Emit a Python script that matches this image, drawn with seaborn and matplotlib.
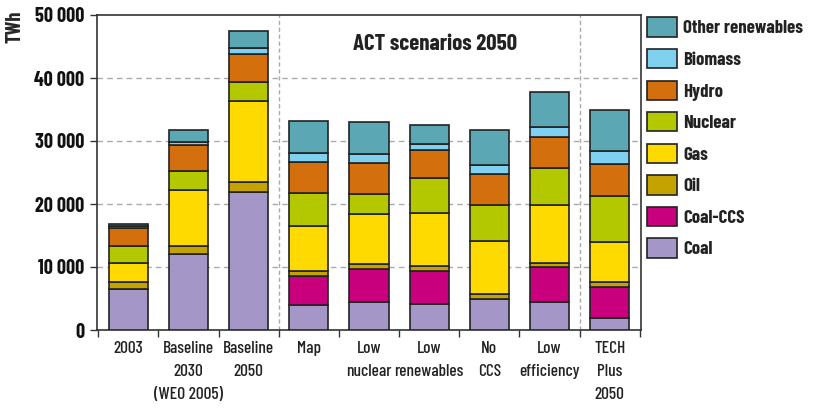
import matplotlib
matplotlib.use("Agg")
import matplotlib.pyplot as plt
from matplotlib import font_manager
from matplotlib.ticker import FuncFormatter, FixedLocator
import seaborn as sns

# Electricity generation by source (TWh)
categories = ['2003', 'Baseline\n2030\n(WEO 2005)', 'Baseline\n2050', 'Map', 'Low\nnuclear',
              'Low\nrenewables', 'No\nCCS', 'Low\nefficiency', 'TECH\nPlus\n2050']
coal = [6500, 12100, 21900, 4000, 4450, 4200, 5000, 4450, 1850]
coal_ccs = [0, 0, 0, 4500, 5200, 5150, 0, 5500, 5050]
oil = [1050, 1170, 1550, 800, 800, 750, 700, 750, 750]
gas = [3100, 8900, 12850, 7150, 7950, 8400, 8400, 9200, 6300]
nuclear = [2750, 3000, 3100, 5300, 3150, 5600, 5700, 5850, 7250]
hydro = [2750, 4250, 4400, 4900, 4900, 4500, 4900, 4850, 5100]
biomass = [300, 500, 950, 1450, 1450, 900, 1450, 1550, 2050]
other = [300, 1900, 2700, 5050, 5150, 3000, 5550, 5700, 6600]

series = [
    ('Coal', coal, '#a596c8'),
    ('Coal-CCS', coal_ccs, '#c8007e'),
    ('Oil', oil, '#c4a200'),
    ('Gas', gas, '#ffda00'),
    ('Nuclear', nuclear, '#b4c800'),
    ('Hydro', hydro, '#d46f0e'),
    ('Biomass', biomass, '#80d0f0'),
    ('Other renewables', other, '#5ba7b4'),
]

sns.set_theme(style="white")
# condensed DIN-like face, with fallbacks
names = {f.name for f in font_manager.fontManager.ttflist}
family = [n for n in ['Barlow Condensed', 'Roboto Condensed', 'DejaVu Sans'] if n in names]
plt.rcParams['font.family'] = family + ['DejaVu Sans']
plt.rcParams['font.weight'] = 600

fig = plt.figure(figsize=(8.18, 4.13), dpi=100)
ax = fig.add_axes([97 / 818, 83 / 413, 544 / 818, 315 / 413])

bottom = [0] * len(categories)
for name, vals, color in series:
    sns.barplot(x=categories, y=vals, bottom=bottom, color=color, width=0.65,
                edgecolor='#222222', linewidth=1.2, errorbar=None, label=name,
                saturation=1, ax=ax, zorder=3)
    bottom = [b + v for b, v in zip(bottom, vals)]

ax.set_xlim(-0.52, 8.52)
ax.set_ylim(0, 50000)
ax.set_yticks(range(0, 50001, 10000))
ax.yaxis.set_major_formatter(FuncFormatter(lambda v, p: f'{int(v):,}'.replace(',', ' ')))
for y in range(10000, 50000, 10000):
    ax.axhline(y, color='#aaaaaa', lw=1, ls=(0, (4, 3)), zorder=1)
for x in [2.5, 7.5]:
    ax.axvline(x, color='#aaaaaa', lw=1, ls=(0, (3, 2)), zorder=1)

ax.xaxis.set_minor_locator(FixedLocator([i - 0.5 for i in range(len(categories) + 1)]))
ax.tick_params(axis='x', which='major', length=0, pad=8, labelsize=12.5, labelcolor='#222222')
ax.tick_params(axis='x', which='minor', length=5, width=1, color='#333333', bottom=True)
ax.tick_params(axis='y', length=5, width=1, color='#333333', left=True, labelsize=14.5,
               pad=4, labelcolor='#111111')
for lab in ax.get_xticklabels():
    lab.set_linespacing(1.65)
    lab.set_fontweight(500)
for lab in ax.get_yticklabels():
    lab.set_fontweight('bold')
ax.set_xlabel('')
ax.set_ylabel('')
for s in ax.spines.values():
    s.set_color('#333333')
    s.set_linewidth(1.2)

ax.text(5.1, 45400, 'ACT scenarios 2050', ha='center', va='center', fontsize=16.5,
        fontweight='bold', color='#222222')
fig.text(0.018, 0.975, 'TWh', rotation=90, ha='center', va='top', fontsize=14.5, fontweight='bold')

handles, labels = ax.get_legend_handles_labels()
leg = ax.legend(handles[::-1], labels[::-1], loc='upper left', bbox_to_anchor=(1.0, 1.01),
                frameon=False, fontsize=13.5, handlelength=1.6, handleheight=1.2,
                handletextpad=0.35, labelspacing=0.62, borderaxespad=0, borderpad=0.3)
for t in leg.get_texts():
    t.set_fontweight('bold')
    t.set_color('#222222')

fig.savefig('out.png', dpi=100)
